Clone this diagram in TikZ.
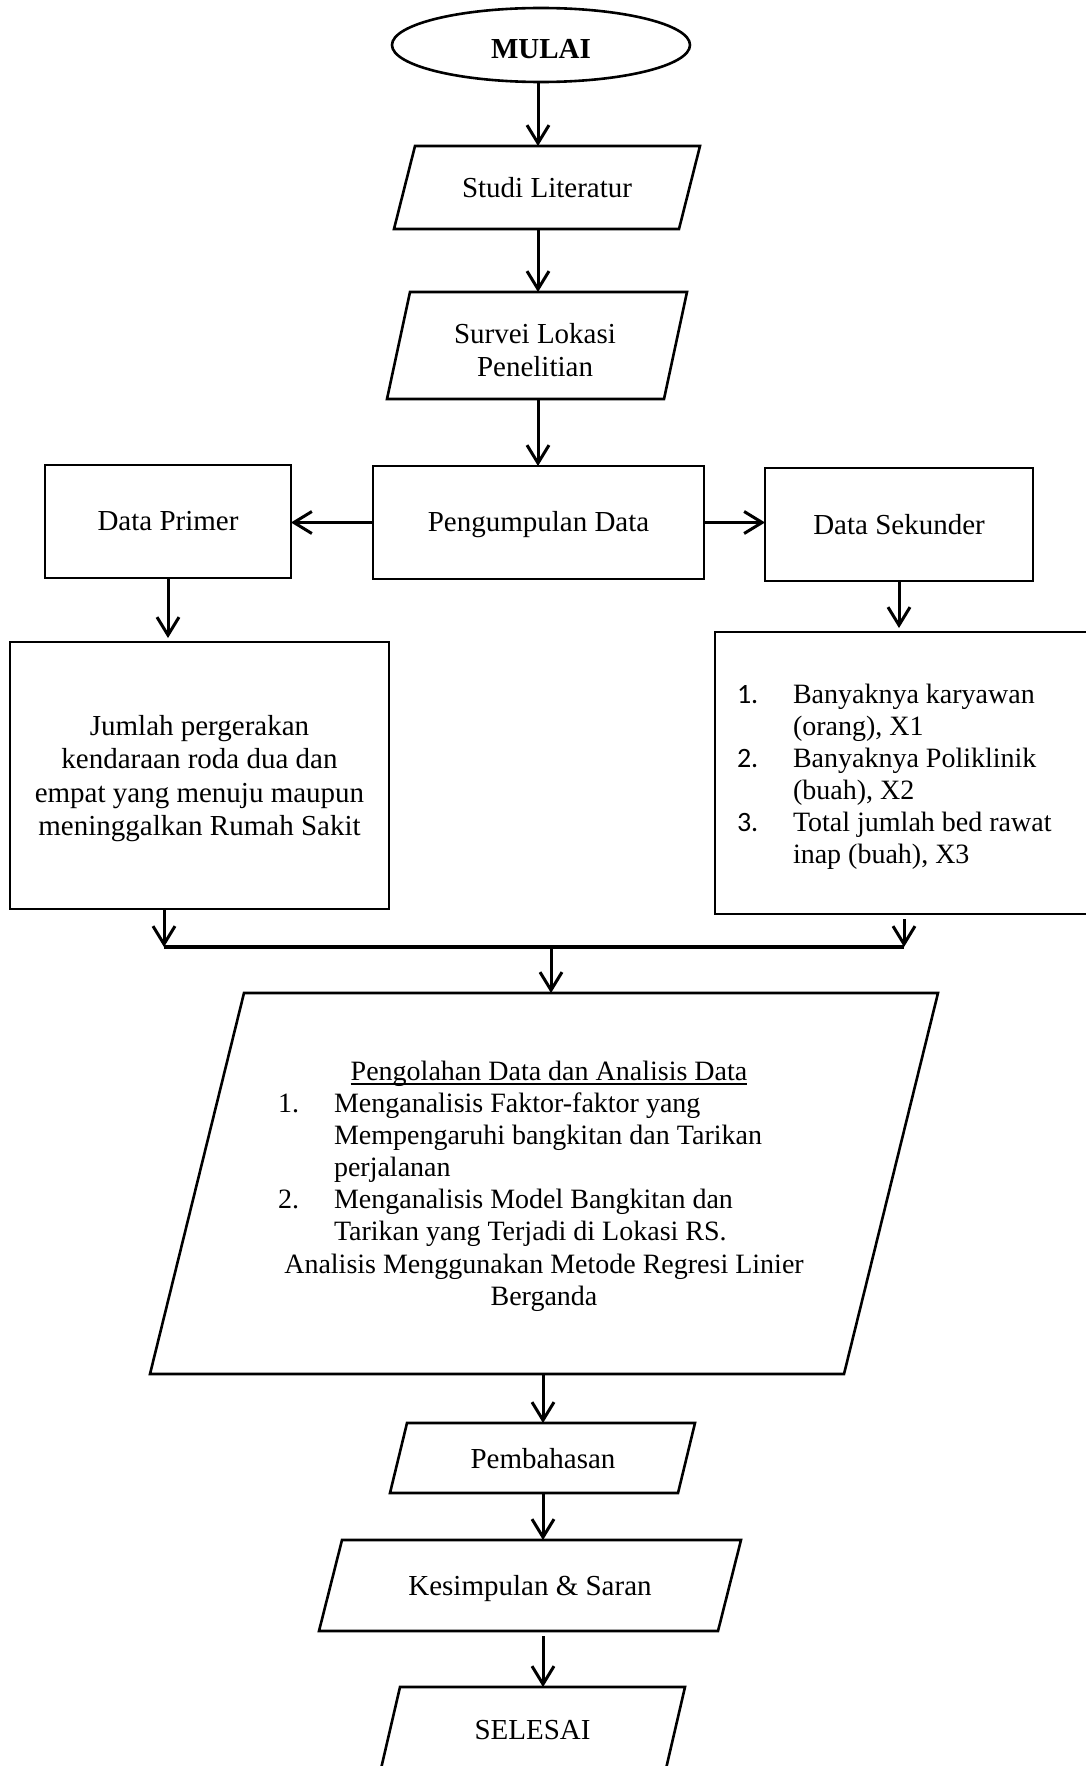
\documentclass[tikz,border=0pt]{standalone}
\usepackage{fontspec}
\setmainfont{Liberation Serif}
\newfontfamily\numfont{Carlito}
\usetikzlibrary{arrows.meta,calc,shapes.geometric}
\newcommand\myfs{\fontsize{29}{32.2}\selectfont}
\newcommand\mysmfs{\fontsize{28}{32.2}\selectfont}
\begin{document}
\begin{tikzpicture}[x=1pt,y=-1pt,line width=2.6pt,
  every node/.style={font=\myfs, inner sep=0pt, outer sep=0pt},
  rectbox/.style={draw},
  arr/.style={line width=3pt,-{Straight Barb[length=18pt,width=22pt]}},
  joint/.style={line width=4pt}]
\useasboundingbox (0,0) rectangle (1086,1766);
\fill[white] (0,0) rectangle (1086,1766);
\clip (0,0) rectangle (1086,1766);

% top part
\node[ellipse, draw, minimum width=298pt, minimum height=74pt] (mulai) at (541,45) {};
\node[anchor=base, font=\myfs\bfseries] (mulaitxt) at (541,59) {MULAI};
\node[minimum width=306pt, minimum height=83pt] (studi) at (547,187.5) {Studi Literatur};
\node[minimum width=300pt, minimum height=107pt] (survei) at (537,345.5) {};
\node[anchor=base, font=\fontsize{29}{33.3}\selectfont] (surveitxt) at (535,343)
  {\begin{tabular}[t]{@{}c@{}}Survei Lokasi\\Penelitian\end{tabular}};

% data row
\node[rectbox, minimum width=246pt, minimum height=113pt] (primer) at (168,521.5) {Data Primer};
\node[rectbox, minimum width=331pt, minimum height=113pt] (peng) at (538.5,522.5) {};
\node[anchor=base] (pengtxt) at (538.5,531) {Pengumpulan Data};
\node[rectbox, minimum width=268pt, minimum height=113pt] (sek) at (899,524.5) {Data Sekunder};

\node[rectbox, minimum width=379pt, minimum height=267pt] (jumlah) at (199.5,775.5) {};
\node[anchor=base, font=\fontsize{29}{33.5}\selectfont] (jumlahtxt) at (199.5,735)
  {\begin{tabular}[t]{@{}c@{}}Jumlah pergerakan\\kendaraan roda dua dan\\empat yang menuju maupun\\meninggalkan Rumah Sakit\end{tabular}};

\node[rectbox, minimum width=385pt, minimum height=282pt] (list) at (907.5,773) {};
\node[anchor=base west, font=\fontsize{28}{32}\selectfont] (listtxt) at (737,703)
  {\begin{tabular}[t]{@{}p{56pt}@{}l@{}}{\numfont 1.}&Banyaknya karyawan\\&(orang), X1\\{\numfont 2.}&Banyaknya Poliklinik\\&(buah), X2\\{\numfont 3.}&Total jumlah bed rawat\\&inap (buah), X3\end{tabular}};

% junction
\coordinate (jl) at (164,947);
\coordinate (jr) at (904,947);
\coordinate (jm) at (551,947);

% big parallelogram
\node[minimum width=788pt, minimum height=381pt] (big) at (544,1183.5) {};
\node[anchor=base, font=\mysmfs] (bigtitle) at (549,1080) {Pengolahan Data dan Analisis Data\ };
\draw[line width=1.5pt] ($(bigtitle.base west)+(0,4)$) -- ($(bigtitle.base east)+(0,4)$);
\node[anchor=base west, font=\mysmfs] (bigitems) at (278,1112)
  {\begin{tabular}[t]{@{}p{56pt}@{}l@{}}1.&Menganalisis Faktor-faktor yang\\&Mempengaruhi bangkitan dan Tarikan\\&perjalanan\\2.&Menganalisis Model Bangkitan dan\\&Tarikan yang Terjadi di Lokasi RS.\end{tabular}};
\node[anchor=base, font=\mysmfs] (bigmethod) at (544,1273)
  {\begin{tabular}[t]{@{}c@{}}Analisis Menggunakan Metode Regresi Linier\\Berganda\end{tabular}};

% bottom part
\node[minimum width=305pt, minimum height=70pt] (bahas) at (542.5,1458) {};
\node[anchor=base] (bahastxt) at (543,1468) {Pembahasan};
\node[minimum width=422pt, minimum height=91pt] (simpul) at (530,1585.5) {};
\node[anchor=base] (simpultxt) at (530,1595) {Kesimpulan \& Saran};
\node[minimum width=305pt, minimum height=86pt] (selesai) at (532.5,1730) {SELESAI};

% parallelogram outlines
\foreach \n/\s in {studi/21, survei/23, big/94, bahas/17, simpul/23, selesai/20}
  \draw ($(\n.north west)+(\s,0)$) -- (\n.north east) -- ($(\n.south east)-(\s,0)$) -- (\n.south west) -- cycle;

% connectors
\coordinate (ax) at (538,0);
\draw[arr] (ax |- mulai.south) -- (ax |- studi.north);
\draw[arr] (ax |- studi.south) -- (ax |- survei.north);
\draw[arr] (ax |- survei.south) -- (ax |- peng.north);
\draw[arr] (peng.west) -- (peng.west -| primer.east);
\draw[arr] (peng.east) -- (peng.east -| sek.west);
\draw[arr, shorten >=4pt] (primer.south) -- (primer.south |- jumlah.north);
\draw[arr, shorten >=4pt] (sek.south) -- (sek.south |- list.north);
\draw[arr] (jl |- jumlah.south) -- (jl);
\draw[arr] ($(jr |- list.south)+(0,5)$) -- (jr);
\draw[joint] (jl) -- (jr);
\draw[arr] (jm) -- (jm |- big.north);
\coordinate (bx) at (543,0);
\draw[arr] (bx |- big.south) -- (bx |- bahas.north);
\draw[arr] (bx |- bahas.south) -- (bx |- simpul.north);
\draw[arr] ($(bx |- simpul.south)+(0,5)$) -- (bx |- selesai.north);
\end{tikzpicture}
\end{document}
